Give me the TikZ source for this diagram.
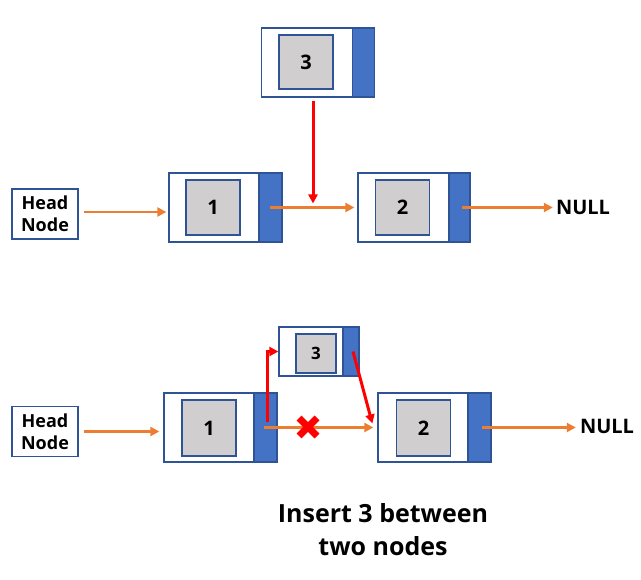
\documentclass[tikz,border=0pt]{standalone}
\usepackage{fontspec}
\setmainfont{Open Sans}
\usetikzlibrary{arrows.meta,positioning}
\definecolor{lnkDark}{RGB}{47,84,150}
\definecolor{lnkBlue}{RGB}{68,114,196}
\definecolor{lnkGray}{RGB}{208,206,206}
\definecolor{lnkOrange}{RGB}{237,125,49}
\definecolor{lnkRed}{RGB}{255,0,0}

\begin{document}
\begin{tikzpicture}[x=1pt,y=-1pt,
      outer/.style={draw=lnkDark,line width=1.3pt,fill=white,inner sep=0pt,minimum width=113pt,minimum height=69pt},
      ptr/.style={draw=lnkDark,line width=1.3pt,fill=lnkBlue,inner sep=0pt,minimum width=23pt,minimum height=69pt,anchor=north east},
      data/.style={draw=lnkDark,line width=1.3pt,fill=lnkGray,inner sep=0pt,minimum width=54pt,minimum height=55pt,font=\fontsize{20}{24}\selectfont\bfseries},
      head/.style={draw=lnkDark,line width=1.3pt,inner sep=0pt,minimum width=66pt,minimum height=50pt,align=center,font=\fontsize{18}{22}\selectfont\bfseries},
      nulltxt/.style={inner sep=2pt,font=\fontsize{20}{24}\selectfont\bfseries},
      orarr/.style={-{Triangle[length=9pt,width=9pt]},line width=2.8pt,draw=lnkOrange},
      redarr/.style={-{Triangle[length=9pt,width=9pt]},line width=3pt,draw=lnkRed}
    ]
    \useasboundingbox (0,0) rectangle (641,580);
    % before insertion
    \node[outer] (n3) at (318,62.5) {};
    \node[ptr,minimum width=22pt] (n3p) at (n3.north east) {};
    \node[data,minimum height=54pt] (n3d) at (306,62) {3};
    \node[head] (hd1) at (45,214) {Head\\Node};
    \node[outer] (n1) at (225.5,207.5) {};
    \node[ptr] (n1p) at (n1.north east) {};
    \node[data] (n1d) at (213,207.5) {1};
    \node[outer,minimum width=112pt] (n2) at (414,207.5) {};
    \node[ptr,minimum width=21pt] (n2p) at (n2.north east) {};
    \node[data] (n2d) at (402.5,207.5) {2};
    \node[nulltxt] (nul1) at (583,207) {NULL};
    \draw[orarr] ([xshift=5pt,yshift=2pt]hd1.east) -- ([xshift=-2pt,yshift=2pt]hd1.east -| n1.west);
    \draw[orarr] ([xshift=-1pt]n1p.center) -- ([xshift=-3pt]n1p.center -| n2.west);
    \draw[orarr] ([xshift=2pt]n2p.center) -- ([xshift=-1pt]n2p.center -| nul1.west);
    \draw[redarr] ([xshift=-5pt,yshift=-3pt]n3.south) -- ([xshift=-5pt,yshift=4pt]n3.south |- n1p.center);
    % after insertion
    \node[outer,minimum width=80pt,minimum height=49pt] (m3) at (319,351.5) {};
    \node[ptr,minimum width=16pt,minimum height=49pt] (m3p) at (m3.north east) {};
    \node[data,minimum width=40pt,minimum height=39pt,font=\fontsize{17}{20}\selectfont\bfseries] (m3d) at (316,353.5) {3};
    \node[head] (hd2) at (45,431.5) {Head\\Node};
    \node[outer] (m1) at (220.5,427.5) {};
    \node[ptr] (m1p) at (m1.north east) {};
    \node[data,minimum height=56pt] (m1d) at (209,428) {1};
    \node[outer] (m2) at (434.5,427.5) {};
    \node[ptr] (m2p) at (m2.north east) {};
    \node[data,minimum height=56pt] (m2d) at (423.5,428) {2};
    \node[nulltxt] (nul2) at (607,426) {NULL};
    \draw[orarr] ([xshift=5pt]hd2.east) -- ([xshift=-4pt]hd2.east -| m1.west);
    \draw[orarr] ([xshift=-2pt]m1p.center) -- ([xshift=-4pt]m1p.center -| m2.west);
    \draw[orarr] ([xshift=2pt]m2p.center) -- ([xshift=-2pt]m2p.center -| nul2.west);
    \draw[redarr] ([xshift=2pt,yshift=5pt]m1p.center) |- (m3.west);
    \draw[redarr] ([xshift=2pt]m3p.center) -- ([xshift=-5pt,yshift=4pt]m2.west);
    \coordinate (cut) at (308,427);
    \draw[lnkRed,line width=7pt] ([shift={(-9,-9)}]cut) -- ([shift={(9,9)}]cut)
      ([shift={(-9,9)}]cut) -- ([shift={(9,-9)}]cut);
    \node[align=center,font=\fontsize{25}{33}\selectfont\bfseries] (cap) at (383,530) {Insert 3 between\\two nodes};
  \end{tikzpicture}
\end{document}
